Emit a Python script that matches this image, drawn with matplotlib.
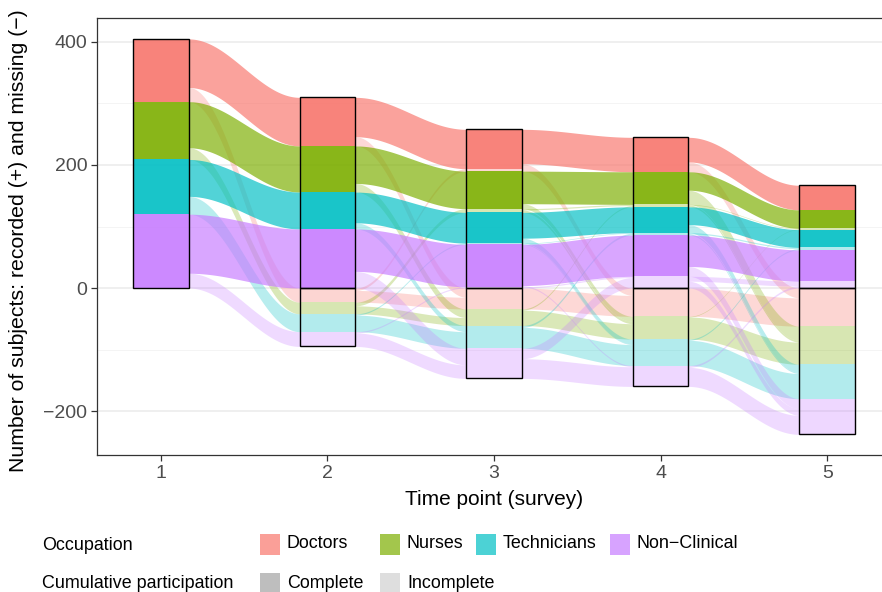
import numpy as np
import matplotlib.pyplot as plt
from matplotlib.patches import Rectangle

plt.rcParams['font.family'] = ['Liberation Sans', 'DejaVu Sans']

W, H = 882, 592

time_points = [1, 2, 3, 4, 5]
occupations = ["Doctors", "Nurses", "Technicians", "Non\u2212Clinical"]
occ_colors = ["#F8766D", "#7CAE00", "#00BFC4", "#C77CFF"]

# subjects per survey: recorded with full history / recorded after a gap / missing
complete = [
    [102, 79, 64, 56, 40],
    [94, 75, 61, 53, 30],
    [89, 60, 50, 42, 29],
    [120, 96, 69, 67, 51],
]
incomplete = [
    [0, 0, 4, 0, 0],
    [0, 0, 6, 4, 2],
    [0, 0, 2, 4, 4],
    [0, 0, 2, 19, 11],
]
missing = [
    [0, 23, 34, 46, 62],
    [0, 19, 27, 37, 62],
    [0, 29, 37, 43, 56],
    [0, 24, 49, 34, 58],
]

# transitions between consecutive surveys, per occupation:
# complete->complete, complete->missing, incomplete->incomplete,
# incomplete->missing, missing->incomplete, missing->missing
trans_1_2 = [[79, 23, 0, 0, 0, 0], [75, 19, 0, 0, 0, 0], [60, 29, 0, 0, 0, 0], [96, 24, 0, 0, 0, 0]]
trans_2_3 = [[64, 15, 0, 0, 4, 19], [61, 14, 0, 0, 6, 13], [50, 10, 0, 0, 2, 27], [69, 27, 0, 0, 2, 22]]
trans_3_4 = [[56, 8, 0, 4, 0, 34], [53, 8, 2, 4, 2, 25], [42, 8, 1, 1, 3, 34], [67, 2, 2, 0, 17, 32]]
trans_4_5 = [[40, 16, 0, 0, 0, 46], [30, 23, 1, 3, 1, 36], [29, 13, 2, 2, 2, 41], [51, 16, 8, 11, 3, 31]]
transitions = [trans_1_2, trans_2_3, trans_3_4, trans_4_5]
trans_pairs = [("c", "c"), ("c", "m"), ("i", "i"), ("i", "m"), ("m", "i"), ("m", "m")]

state_order = {"c": 0, "i": 1, "m": 2}
alpha_stratum = {"c": 0.9, "i": 0.3, "m": 0.3}
alpha_flow_full, alpha_flow_light = 0.68, 0.28
bar_w = 1 / 3


def stratum_bounds(t):
    """(top, bottom) for every (occupation, state) at survey index t."""
    bounds = {}
    top = sum(complete[k][t] + incomplete[k][t] for k in range(len(occupations)))
    y = top
    for k in range(len(occupations)):
        for s, vals in (("c", complete), ("i", incomplete)):
            bounds[(k, s)] = (y, y - vals[k][t])
            y -= vals[k][t]
    y = 0
    for k in range(len(occupations)):
        bounds[(k, "m")] = (y, y - missing[k][t])
        y -= missing[k][t]
    return bounds, top, y


fig = plt.figure(figsize=(W / 100, H / 100), dpi=100)
ax = fig.add_axes([97 / W, 1 - 455 / H, (891 - 97) / W, (455 - 18) / H])

# flows
for ti, trans in enumerate(transitions):
    left, _, _ = stratum_bounds(ti)
    right, _, _ = stratum_bounds(ti + 1)
    out_ptr = {key: b[0] for key, b in left.items()}
    in_ptr = {key: b[0] for key, b in right.items()}
    flows = []
    for k in range(len(occupations)):
        for (src, dst), v in zip(trans_pairs, trans[k]):
            if v > 0:
                flows.append([k, src, dst, v, None, None])
    # outgoing lodes ordered by destination, incoming lodes ordered by source
    for f in sorted(flows, key=lambda f: (f[0], state_order[f[1]], state_order[f[2]])):
        f[4] = out_ptr[(f[0], f[1])]
        out_ptr[(f[0], f[1])] -= f[3]
    for f in sorted(flows, key=lambda f: (f[0], state_order[f[2]], state_order[f[1]])):
        f[5] = in_ptr[(f[0], f[2])]
        in_ptr[(f[0], f[2])] -= f[3]

    x0 = time_points[ti] + bar_w / 2
    x1 = time_points[ti + 1] - bar_w / 2
    xs = np.linspace(x0, x1, 120)
    s = (1 - np.cos(np.pi * (xs - x0) / (x1 - x0))) / 2
    for full in (False, True):
        for k, src, dst, v, y0, y1 in flows:
            is_full = src == "c" and dst == "c"
            if is_full != full:
                continue
            upper = y0 + (y1 - y0) * s
            ax.fill_between(xs, upper - v, upper, color=occ_colors[k], lw=0,
                            alpha=alpha_flow_full if full else alpha_flow_light, zorder=2)

# strata
for ti, tp in enumerate(time_points):
    bounds, top, bottom = stratum_bounds(ti)
    for (k, st), (y_hi, y_lo) in bounds.items():
        if y_hi > y_lo:
            ax.bar(tp, y_hi - y_lo, bottom=y_lo, width=bar_w, color=occ_colors[k],
                   alpha=alpha_stratum[st], lw=0, zorder=3)
    ax.bar(tp, top, width=bar_w, fill=False, edgecolor="black", lw=1.0, zorder=4)
    if bottom < 0:
        ax.bar(tp, bottom, width=bar_w, fill=False, edgecolor="black", lw=1.0, zorder=4)

ax.set_xlim(0.617, 5.383)
ax.set_ylim(-271.5, 439)
ax.set_xticks(time_points)
ax.set_yticks([-200, 0, 200, 400])
ax.set_yticks([-100, 100, 300], minor=True)
ax.grid(axis="y", which="major", color="#EBEBEB", lw=1.1, zorder=0)
ax.grid(axis="y", which="minor", color="#F2F2F2", lw=0.6, zorder=0)
ax.set_axisbelow(True)
for sp in ax.spines.values():
    sp.set_color("#333333")
    sp.set_linewidth(0.9)
ax.tick_params(axis="both", which="major", length=4, width=0.9, color="#333333",
               labelsize=14, labelcolor="#4D4D4D", pad=3)
ax.tick_params(axis="y", which="minor", length=0)
ax.set_xlabel("Time point (survey)", fontsize=15, labelpad=6)
ax.set_ylabel("Number of subjects: recorded (+) and missing (\u2212)", fontsize=15.3)
ax.yaxis.set_label_coords(-0.087, 0.49)


def px_rect(x, y, w, h, color, alpha=1.0):
    fig.add_artist(Rectangle((x / W, 1 - (y + h) / H), w / W, h / H,
                             transform=fig.transFigure, facecolor=color, alpha=alpha, lw=0))


def px_text(x, y, s):
    fig.text(x / W, 1 - y / H, s, fontsize=12.9, va="center", ha="left")


# legends along the bottom
px_text(42, 545, "Occupation")
for x_key, name, col in zip([260, 380, 476, 610], occupations, occ_colors):
    px_rect(x_key, 534, 20, 21, col, alpha=0.7)
    px_text(x_key + 27, 544, name)

px_text(42, 584, "Cumulative participation")
for x_key, name, col in zip([260, 380], ["Complete", "Incomplete"], ["#BEBEBE", "#DEDEDE"]):
    px_rect(x_key, 573, 20, 21, col)
    px_text(x_key + 27, 583, name)

fig.savefig("out.png", dpi=100)
